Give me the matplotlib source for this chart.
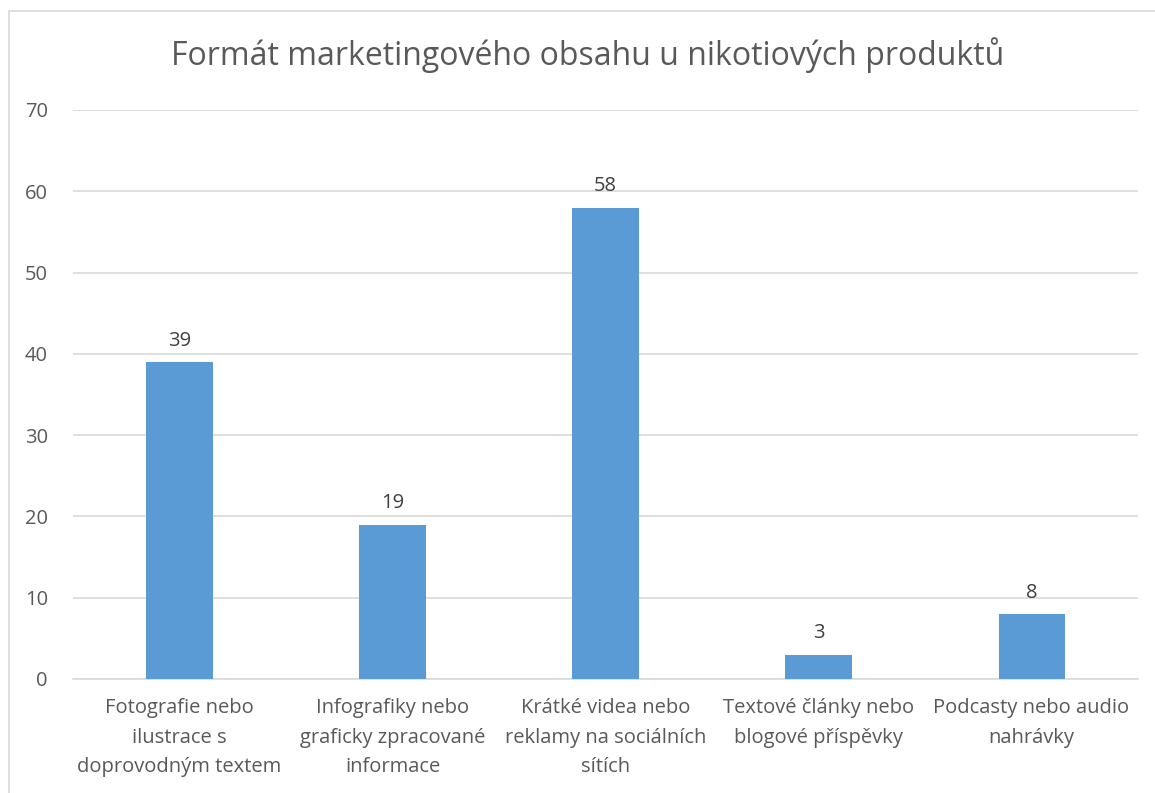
import matplotlib.pyplot as plt
from matplotlib.patches import Rectangle

# data
categories = [
    "Fotografie nebo\nilustrace s\ndoprovodným textem",
    "Infografiky nebo\ngraficky zpracované\ninformace",
    "Krátké videa nebo\nreklamy na sociálních\nsítích",
    "Textové články nebo\nblogové příspěvky",
    "Podcasty nebo audio\nnahrávky",
]
values = [39, 19, 58, 3, 8]
y_ticks = [0, 10, 20, 30, 40, 50, 60, 70]

text_color = "#595959"
bar_color = "#5B9BD5"
grid_color = "#D9D9D9"

plt.rcParams['font.family'] = ['Open Sans', 'DejaVu Sans']

fig = plt.figure(figsize=(11.55, 7.93), dpi=100)
ax = fig.add_axes([0.0632, 0.1438, 0.9221, 0.7175])

# chart border
fig.patches.append(Rectangle((9 / 1155, -0.01), 1.2, 1 - 11 / 793 + 0.01,
                             transform=fig.transFigure, fill=False,
                             edgecolor="#D9D9D9", linewidth=1.2))

x = range(len(categories))
bars = ax.bar(x, values, width=0.31, color=bar_color, zorder=3)

for b, v in zip(bars, values):
    ax.annotate(str(v), (b.get_x() + b.get_width() / 2, v),
                xytext=(0, 8), textcoords="offset points",
                ha="center", va="bottom", fontsize=14.5, color="#404040")

ax.set_xlim(-0.5, len(categories) - 0.5)
ax.set_ylim(0, 70)
ax.set_yticks(y_ticks)
ax.set_xticks(list(x))
ax.set_xticklabels(categories, fontsize=14.5, color=text_color, linespacing=1.62)
ax.tick_params(axis="y", labelsize=14.5, labelcolor=text_color, length=0, pad=18)
ax.tick_params(axis="x", length=0, pad=14)
ax.grid(axis="y", color=grid_color, linewidth=1.2, zorder=0)

for s in ["top", "right", "left"]:
    ax.spines[s].set_visible(False)
ax.spines["bottom"].set_color(grid_color)
ax.spines["bottom"].set_linewidth(1.2)

fig.text(0.509, 0.93, "Formát marketingového obsahu u nikotiových produktů",
         ha="center", va="center", fontsize=23, color=text_color)

fig.savefig("out.png", dpi=100)
